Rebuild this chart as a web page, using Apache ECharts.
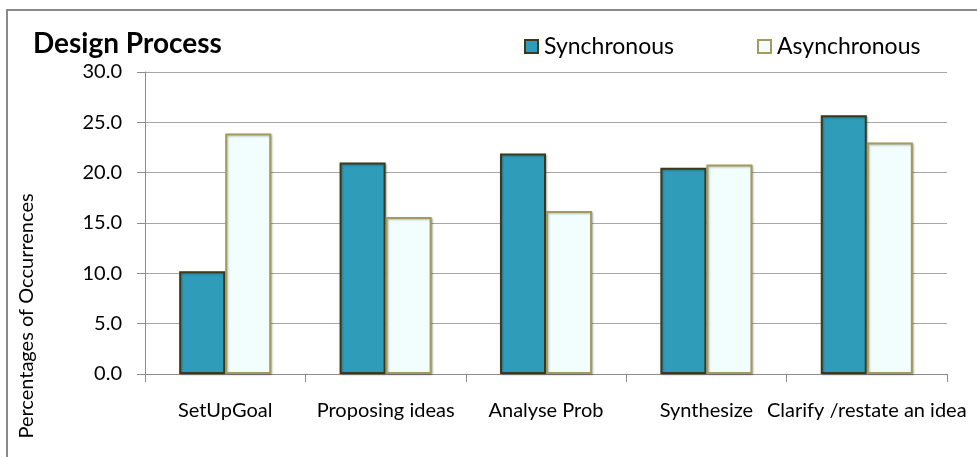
<!DOCTYPE html>
<html>
<head>
<meta charset="utf-8">
<script src="https://cdn.jsdelivr.net/npm/echarts@6/dist/echarts.min.js"></script>
<style>html,body{margin:0;padding:0;background:#fff;}#c{width:977px;height:457px;}</style>
</head>
<body>
<div id="c"></div>
<script>
const chartTitle = 'Design Process';
const yAxisTitle = 'Percentages of Occurrences';
const categories = ['SetUpGoal', 'Proposing ideas', 'Analyse Prob', 'Synthesize', 'Clarify /restate an idea'];
const seriesNames = ['Synchronous', 'Asynchronous'];
const synchronous = [10.2, 21.0, 21.9, 20.5, 25.7];
const asynchronous = [23.9, 15.6, 16.2, 20.8, 23.0];
const yMin = 0, yMax = 30, yStep = 5;

const FONT = 'Lato';
const chart = echarts.init(document.getElementById('c'), null, {renderer: 'canvas'});
const syncStyle = {color: '#2f9dba', borderColor: '#3b391c', borderWidth: 2,
  shadowBlur: 2, shadowOffsetX: 1, shadowOffsetY: 1, shadowColor: 'rgba(0,0,0,0.25)'};
const asyncStyle = {color: '#f2fefe', borderColor: '#a39b5a', borderWidth: 2,
  shadowBlur: 2, shadowOffsetX: 1, shadowOffsetY: 1, shadowColor: 'rgba(0,0,0,0.25)'};
const legendText = {fontFamily: FONT, fontSize: 23, color: '#000', padding: [0, 0, 0, 1]};

chart.setOption({
  animation: false,
  backgroundColor: '#fff',
  title: {text: chartTitle, left: 28, top: 25,
    textStyle: {fontFamily: FONT, fontSize: 28, fontWeight: 'bold', color: '#000'}},
  legend: [
    {data: [seriesNames[0]], left: 519, top: 30, itemWidth: 13, itemHeight: 13, icon: 'rect', textStyle: legendText},
    {data: [seriesNames[1]], left: 752, top: 30, itemWidth: 13, itemHeight: 13, icon: 'rect', textStyle: legendText}
  ],
  grid: {left: 145, right: 30, top: 72, bottom: 83, containLabel: false},
  xAxis: {
    type: 'category', data: categories, boundaryGap: true,
    axisLine: {lineStyle: {color: '#8c8c8c', width: 1}},
    axisTick: {show: true, length: 8, alignWithLabel: false, lineStyle: {color: '#8c8c8c'}},
    axisLabel: {fontFamily: FONT, fontSize: 20, color: '#000', margin: 27, interval: 0}
  },
  yAxis: {
    type: 'value', min: yMin, max: yMax, interval: yStep,
    axisLine: {show: true, lineStyle: {color: '#8c8c8c', width: 1}},
    axisTick: {show: true, length: 8, lineStyle: {color: '#8c8c8c'}},
    splitLine: {lineStyle: {color: '#a6a6a6', width: 1}},
    axisLabel: {fontFamily: FONT, fontSize: 20, color: '#000', margin: 23,
      formatter: v => v.toFixed(1)}
  },
  series: [
    {name: seriesNames[0], type: 'bar', data: synchronous, barGap: '0%', barCategoryGap: '42.6%', itemStyle: syncStyle},
    {name: seriesNames[1], type: 'bar', data: asynchronous, barGap: '0%', barCategoryGap: '42.6%', itemStyle: asyncStyle}
  ],
  graphic: [
    {type: 'rect', silent: true, z: -1, shape: {x: 7, y: 10, width: 1000, height: 500},
      style: {fill: 'none', stroke: '#8a8a8a', lineWidth: 2}},
    {type: 'text', silent: true, x: 27, y: 316, rotation: Math.PI / 2,
      style: {text: yAxisTitle, fontFamily: FONT, fontSize: 20, fill: '#000',
        textAlign: 'center', textVerticalAlign: 'middle', align: 'center', verticalAlign: 'middle'}}
  ]
});
</script>
</body>
</html>
